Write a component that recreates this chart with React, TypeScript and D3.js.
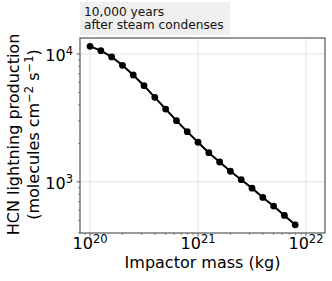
import { useRef, useEffect } from "react";
import * as d3 from "d3";

// impactor mass exponents (log10 kg) and HCN production (molecules cm^-2 s^-1)
const massExponents = [20.0, 20.1, 20.2, 20.3, 20.4, 20.5, 20.6, 20.7, 20.8, 20.9, 21.0, 21.1, 21.2, 21.3, 21.4, 21.5, 21.6, 21.7, 21.8, 21.9];
const hcnProduction = [11480, 10620, 9480, 8160, 6850, 5650, 4580, 3710, 3010, 2470, 2040, 1690, 1430, 1210, 1040, 893, 755, 646, 546, 461];
const xTickExponents = [20, 21, 22];
const yTickExponents = [3, 4];
const titleLines = ["10,000 years", "after steam condenses"];

export default function App() {
  const svgRef = useRef<SVGSVGElement>(null);

  useEffect(() => {
    document.body.style.margin = "0";
    if (!svgRef.current) return;

    const width = 332;
    const height = 281;
    const left = 80;
    const right = 325;
    const top = 38;
    const bottom = 233;
    const font = "DejaVu Sans, sans-serif";

    const svg = d3.select(svgRef.current);
    svg.selectAll("*").remove();
    svg.attr("width", width).attr("height", height);

    const x = d3.scaleLog().domain([Math.pow(10, 19.907), Math.pow(10, 22.176)]).range([left, right]);
    const y = d3.scaleLog().domain([Math.pow(10, 2.60), Math.pow(10, 4.125)]).range([bottom, top]);

    const data = massExponents.map((e, i) => ({ m: Math.pow(10, e), v: hcnProduction[i] }));

    // title box
    svg.append("rect")
      .attr("x", left).attr("y", 2)
      .attr("width", 150).attr("height", 33)
      .attr("fill", "#efefef");
    svg.selectAll(".title")
      .data(titleLines)
      .join("text")
      .attr("x", left + 4)
      .attr("y", (_, i) => 16.3 + i * 13)
      .attr("font-family", font)
      .attr("font-size", "12.2px")
      .attr("fill", "#111")
      .text((d) => d);

    // grid
    svg.selectAll(".xgrid")
      .data(xTickExponents)
      .join("line")
      .attr("x1", (d) => x(Math.pow(10, d))).attr("x2", (d) => x(Math.pow(10, d)))
      .attr("y1", top).attr("y2", bottom)
      .attr("stroke", "#e3e3e3").attr("stroke-width", 1);
    svg.selectAll(".ygrid")
      .data(yTickExponents)
      .join("line")
      .attr("x1", left).attr("x2", right)
      .attr("y1", (d) => y(Math.pow(10, d))).attr("y2", (d) => y(Math.pow(10, d)))
      .attr("stroke", "#e3e3e3").attr("stroke-width", 1);

    // minor ticks
    const xMinor: number[] = [];
    for (let e = 19; e <= 22; e++) for (let k = 2; k <= 9; k++) {
      const v = k * Math.pow(10, e);
      if (v > x.domain()[0] && v < x.domain()[1]) xMinor.push(v);
    }
    const yMinor: number[] = [];
    for (let e = 2; e <= 4; e++) for (let k = 2; k <= 9; k++) {
      const v = k * Math.pow(10, e);
      if (v > y.domain()[0] && v < y.domain()[1]) yMinor.push(v);
    }
    svg.selectAll(".xminor")
      .data(xMinor)
      .join("line")
      .attr("x1", (d) => x(d)).attr("x2", (d) => x(d))
      .attr("y1", bottom).attr("y2", bottom + 2)
      .attr("stroke", "#444").attr("stroke-width", 0.6);
    svg.selectAll(".yminor")
      .data(yMinor)
      .join("line")
      .attr("x1", left - 2).attr("x2", left)
      .attr("y1", (d) => y(d)).attr("y2", (d) => y(d))
      .attr("stroke", "#444").attr("stroke-width", 0.6);

    // major ticks
    svg.selectAll(".xmajor")
      .data(xTickExponents)
      .join("line")
      .attr("x1", (d) => x(Math.pow(10, d))).attr("x2", (d) => x(Math.pow(10, d)))
      .attr("y1", bottom).attr("y2", bottom + 3.5)
      .attr("stroke", "#333").attr("stroke-width", 0.8);
    svg.selectAll(".ymajor")
      .data(yTickExponents)
      .join("line")
      .attr("x1", left - 3.5).attr("x2", left)
      .attr("y1", (d) => y(Math.pow(10, d))).attr("y2", (d) => y(Math.pow(10, d)))
      .attr("stroke", "#333").attr("stroke-width", 0.8);

    // x tick labels
    const xl = svg.selectAll(".xlabel")
      .data(xTickExponents)
      .join("text")
      .attr("x", (d) => x(Math.pow(10, d)))
      .attr("y", 249)
      .attr("text-anchor", "middle")
      .attr("font-family", font)
      .attr("font-size", "16px")
      .attr("fill", "#000");
    xl.append("tspan").text("10");
    xl.append("tspan").attr("dy", -6.5).attr("font-size", "11.5px").text((d) => d);

    // y tick labels
    const yl = svg.selectAll(".ylabel")
      .data(yTickExponents)
      .join("text")
      .attr("x", left - 7)
      .attr("y", (d) => y(Math.pow(10, d)) + 7.5)
      .attr("text-anchor", "end")
      .attr("font-family", font)
      .attr("font-size", "16px")
      .attr("fill", "#000");
    yl.append("tspan").text("10");
    yl.append("tspan").attr("dy", -6.5).attr("font-size", "11.5px").text((d) => d);

    // frame
    svg.append("rect")
      .attr("x", left).attr("y", top)
      .attr("width", right - left).attr("height", bottom - top)
      .attr("fill", "none").attr("stroke", "#555").attr("stroke-width", 1.2);

    // series
    const line = d3.line<{ m: number; v: number }>().x((d) => x(d.m)).y((d) => y(d.v));
    svg.append("path")
      .datum(data)
      .attr("d", line)
      .attr("fill", "none").attr("stroke", "#000").attr("stroke-width", 2);
    svg.selectAll(".pt")
      .data(data)
      .join("circle")
      .attr("cx", (d) => x(d.m)).attr("cy", (d) => y(d.v))
      .attr("r", 3.4).attr("fill", "#000");

    // axis titles
    svg.append("text")
      .attr("x", (left + right) / 2).attr("y", 268)
      .attr("text-anchor", "middle")
      .attr("font-family", font).attr("font-size", "16px")
      .text("Impactor mass (kg)");

    const cy = 134.5;
    svg.append("text")
      .attr("transform", `translate(18.5, ${cy}) rotate(-90)`)
      .attr("text-anchor", "middle")
      .attr("font-family", font).attr("font-size", "16px")
      .text("HCN lightning production");
    const yl2 = svg.append("text")
      .attr("transform", `translate(39, ${cy}) rotate(-90)`)
      .attr("text-anchor", "middle")
      .attr("font-family", font).attr("font-size", "16px");
    yl2.append("tspan").text("(molecules cm");
    yl2.append("tspan").attr("dy", -6.5).attr("font-size", "11.5px").text("\u22122");
    yl2.append("tspan").attr("dy", 6.5).text(" s");
    yl2.append("tspan").attr("dy", -6.5).attr("font-size", "11.5px").text("\u22121");
    yl2.append("tspan").attr("dy", 6.5).text(")");
  }, []);

  return <svg ref={svgRef} style={{ display: "block" }} />;
}
